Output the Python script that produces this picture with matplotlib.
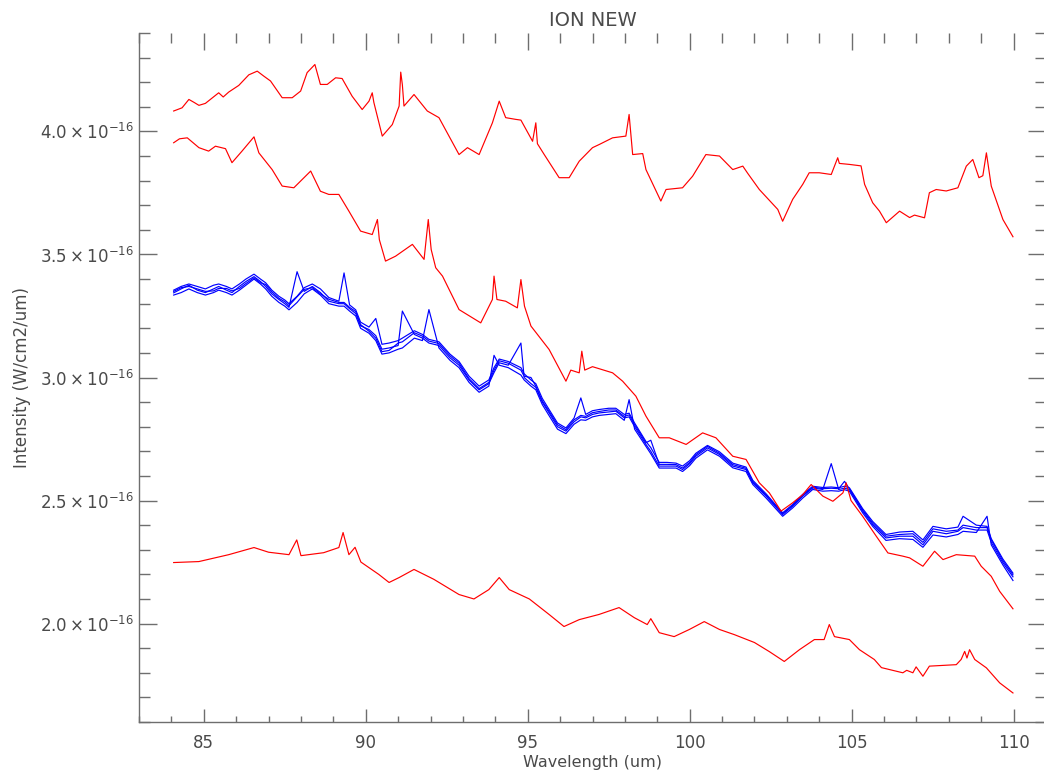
import numpy as np
import matplotlib
matplotlib.use("Agg")
import matplotlib.pyplot as plt
from matplotlib.ticker import MultipleLocator, FuncFormatter

plt.rcParams['font.family'] = ['DejaVu Sans']
plt.rcParams['mathtext.fontset'] = 'dejavusans'

# ---------------- data (intensity in units of 1e-16 W/cm2/um) ----------------
TITLE = "ION NEW"
XLABEL = "Wavelength (um)"
YLABEL = "Intensity (W/cm2/um)"

# red, upper spectrum
R1X = [84.07, 84.33, 84.54, 84.7, 84.85, 85.05, 85.46, 85.6, 85.77, 86.08, 86.39, 86.65, 86.85, 87.06, 87.42,
       87.73, 87.99, 88.19, 88.43, 88.6, 88.81, 89.07, 89.27, 89.58, 89.89, 90.1, 90.2, 90.25, 90.51, 90.82,
       91.03, 91.08, 91.13, 91.18, 91.49, 91.9, 92.26, 92.88, 93.14, 93.5, 93.91, 94.12, 94.32, 94.63, 94.79,
       95.15, 95.25, 95.3, 95.51, 95.97, 96.28, 96.59, 97.0, 97.21, 97.62, 98.03, 98.13, 98.24, 98.55, 98.65,
       99.11, 99.27, 99.78, 100.09, 100.5, 100.92, 101.33, 101.64, 101.79, 102.15, 102.72, 102.87, 103.18, 103.49, 103.69,
       104.0, 104.37, 104.57, 104.62, 104.93, 105.29, 105.4, 105.65, 105.86, 106.07, 106.48, 106.79, 106.94, 107.25, 107.4,
       107.61, 107.92, 108.28, 108.54, 108.74, 108.93, 109.05, 109.16, 109.31, 109.67, 109.98]
R1Y = [4.083, 4.096, 4.13, 4.118, 4.106, 4.114, 4.157, 4.14, 4.16, 4.187, 4.23, 4.245, 4.225, 4.205, 4.137,
       4.137, 4.164, 4.239, 4.272, 4.191, 4.191, 4.218, 4.215, 4.143, 4.089, 4.123, 4.157, 4.118, 3.981, 4.028,
       4.103, 4.241, 4.19, 4.103, 4.15, 4.083, 4.056, 3.906, 3.934, 3.906, 4.035, 4.123, 4.056, 4.049, 4.046,
       3.96, 4.035, 3.95, 3.906, 3.812, 3.812, 3.879, 3.934, 3.947, 3.974, 3.981, 4.069, 3.906, 3.91, 3.845,
       3.717, 3.764, 3.771, 3.818, 3.906, 3.9, 3.845, 3.859, 3.83, 3.764, 3.683, 3.635, 3.724, 3.785, 3.832,
       3.832, 3.825, 3.893, 3.87, 3.866, 3.86, 3.785, 3.71, 3.676, 3.629, 3.676, 3.65, 3.66, 3.649, 3.751,
       3.764, 3.758, 3.771, 3.859, 3.886, 3.812, 3.82, 3.913, 3.778, 3.642, 3.572]

# red, second spectrum
R2X = [84.07, 84.25, 84.49, 84.85, 85.15, 85.36, 85.67, 85.87, 86.18, 86.55, 86.7, 87.11, 87.42, 87.78,
       88.3, 88.6, 88.86, 89.17, 89.48, 89.84, 90.2, 90.36, 90.42, 90.61, 90.92, 91.44, 91.8, 91.93, 92.02,
       92.16, 92.37, 92.88, 93.55, 93.91, 93.96, 94.05, 94.32, 94.68, 94.79, 94.9, 95.1, 95.66, 96.18, 96.33,
       96.59, 96.67, 96.76, 97.0, 97.62, 97.93, 98.34, 98.65, 99.06, 99.37, 99.89, 100.4, 100.81, 101.33, 101.74,
       102.15, 102.46, 102.82, 103.18, 103.49, 103.75, 104.11, 104.42, 104.73, 104.83, 104.98, 105.34, 105.76,
       106.12, 106.58, 106.79, 107.2, 107.56, 107.82, 108.23, 108.8, 109.0, 109.31, 109.57, 109.98]
R2Y = [3.954, 3.97, 3.974, 3.934, 3.92, 3.94, 3.93, 3.873, 3.92, 3.978, 3.913, 3.845, 3.778, 3.771,
       3.839, 3.757, 3.744, 3.744, 3.676, 3.595, 3.581, 3.642, 3.56, 3.473, 3.493, 3.541, 3.48, 3.642, 3.52,
       3.446, 3.412, 3.276, 3.222, 3.317, 3.412, 3.317, 3.31, 3.283, 3.398, 3.29, 3.209, 3.114, 2.985, 3.03,
       3.019, 3.107, 3.03, 3.044, 3.019, 2.985, 2.924, 2.843, 2.755, 2.755, 2.728, 2.775, 2.755, 2.68, 2.667,
       2.572, 2.531, 2.457, 2.491, 2.524, 2.565, 2.518, 2.497, 2.531, 2.572, 2.5, 2.436, 2.355,
       2.287, 2.274, 2.267, 2.233, 2.294, 2.26, 2.28, 2.274, 2.233, 2.192, 2.131, 2.06]

# red, lower spectrum
R3X = [84.07, 84.85, 85.77, 86.55, 87.0, 87.63, 87.87, 88.0, 88.7, 89.17, 89.3, 89.48, 89.67, 89.85,
       90.4, 90.72, 91.03, 91.49, 92.1, 92.88, 93.34, 93.8, 94.12, 94.43, 95.05, 95.66, 96.12, 96.59,
       97.2, 97.82, 98.29, 98.69, 98.8, 99.06, 99.52, 99.99, 100.45, 100.92, 101.38, 102.0, 102.46, 102.92,
       103.39, 103.85, 104.15, 104.31, 104.47, 104.93, 105.24, 105.7, 105.92, 106.58, 106.7, 106.89, 106.99,
       107.2, 107.4, 108.23, 108.38, 108.49, 108.56, 108.64, 108.8, 109.16, 109.57, 109.98]
R3Y = [2.248, 2.252, 2.28, 2.309, 2.29, 2.28, 2.34, 2.276, 2.288, 2.309, 2.37, 2.28, 2.31, 2.25,
       2.2, 2.167, 2.187, 2.22, 2.18, 2.118, 2.1, 2.138, 2.187, 2.138, 2.1, 2.037, 1.988, 2.016,
       2.037, 2.065, 2.024, 1.996, 2.02, 1.963, 1.947, 1.976, 2.008, 1.976, 1.955, 1.923, 1.886, 1.846,
       1.894, 1.935, 1.935, 1.996, 1.947, 1.935, 1.894, 1.854, 1.821, 1.8, 1.81, 1.8, 1.824,
       1.786, 1.827, 1.833, 1.854, 1.887, 1.86, 1.894, 1.854, 1.82, 1.759, 1.718]

# blue bundle (four spectra on a shared wavelength grid)
BX = [84.07, 84.3, 84.54, 84.8, 85.05, 85.3, 85.46, 85.7, 85.87, 86.1,
      86.3, 86.55, 86.75, 86.91, 87.1, 87.32, 87.5, 87.63, 87.88, 88.1,
      88.35, 88.6, 88.86, 89.17, 89.33, 89.5, 89.69, 89.84, 90.1, 90.31,
      90.5, 90.72, 91.0, 91.13, 91.5, 91.75, 91.95, 92.26, 92.6, 92.88,
      93.19, 93.5, 93.8, 93.96, 94.12, 94.4, 94.79, 94.89, 95.1, 95.25,
      95.45, 95.66, 95.92, 96.18, 96.43, 96.64, 96.79, 97.0, 97.21, 97.5,
      97.72, 97.98, 98.13, 98.3, 98.65, 98.8, 99.06, 99.3, 99.58, 99.78,
      100.0, 100.19, 100.55, 100.92, 101.33, 101.74, 101.95, 102.36, 102.87, 103.18,
      103.49, 103.8, 104.11, 104.37, 104.6, 104.78, 104.93, 105.34, 105.65, 106.06,
      106.48, 106.89, 107.2, 107.51, 107.92, 108.28, 108.44, 108.85, 109.18, 109.31,
      109.67, 109.98]
B1 = [3.344, 3.36, 3.375, 3.355, 3.345, 3.36, 3.37, 3.355, 3.345, 3.37,
      3.39, 3.41, 3.39, 3.37, 3.34, 3.317, 3.30, 3.285, 3.43, 3.35,
      3.37, 3.345, 3.31, 3.30, 3.30, 3.28, 3.26, 3.21, 3.195, 3.17,
      3.115, 3.12, 3.13, 3.27, 3.175, 3.16, 3.14, 3.13, 3.08, 3.05,
      2.99, 2.95, 2.975, 3.02, 3.06, 3.05, 3.14, 3.0, 2.975, 2.96,
      2.9, 2.856, 2.80, 2.782, 2.82, 2.84, 2.836, 2.85, 2.856, 2.86,
      2.863, 2.836, 2.84, 2.8, 2.728, 2.70, 2.64, 2.64, 2.64, 2.626,
      2.65, 2.68, 2.714, 2.687, 2.64, 2.626, 2.572, 2.518, 2.443, 2.477,
      2.518, 2.551, 2.545, 2.65, 2.545, 2.55, 2.545, 2.457, 2.402, 2.348,
      2.355, 2.355, 2.32, 2.375, 2.365, 2.375, 2.39, 2.38, 2.38, 2.33,
      2.247, 2.19]
B2 = [3.355, 3.37, 3.38, 3.37, 3.36, 3.375, 3.38, 3.37, 3.36, 3.38,
      3.40, 3.42, 3.40, 3.385, 3.355, 3.33, 3.315, 3.30, 3.33, 3.365,
      3.38, 3.36, 3.325, 3.31, 3.425, 3.295, 3.275, 3.225, 3.205, 3.24,
      3.135, 3.14, 3.15, 3.16, 3.19, 3.175, 3.155, 3.145, 3.095, 3.065,
      3.005, 2.965, 2.99, 3.04, 3.075, 3.065, 3.04, 3.015, 2.99, 2.975,
      2.915, 2.87, 2.815, 2.795, 2.835, 2.917, 2.85, 2.865, 2.87, 2.875,
      2.875, 2.85, 2.855, 2.815, 2.74, 2.715, 2.655, 2.655, 2.652, 2.64,
      2.662, 2.692, 2.724, 2.698, 2.652, 2.636, 2.582, 2.527, 2.45, 2.484,
      2.525, 2.558, 2.553, 2.555, 2.552, 2.558, 2.552, 2.467, 2.415, 2.362,
      2.372, 2.375, 2.34, 2.395, 2.385, 2.392, 2.436, 2.4, 2.395, 2.345,
      2.262, 2.205]
B3 = [3.335, 3.345, 3.36, 3.345, 3.335, 3.345, 3.355, 3.345, 3.335, 3.355,
      3.375, 3.40, 3.38, 3.36, 3.33, 3.305, 3.29, 3.275, 3.305, 3.34,
      3.36, 3.335, 3.30, 3.29, 3.29, 3.27, 3.25, 3.20, 3.18, 3.15,
      3.095, 3.10, 3.115, 3.12, 3.16, 3.15, 3.276, 3.12, 3.07, 3.04,
      2.98, 2.94, 2.965, 3.09, 3.05, 3.04, 3.01, 2.99, 2.965, 2.95,
      2.89, 2.845, 2.79, 2.772, 2.81, 2.828, 2.826, 2.84, 2.846, 2.85,
      2.853, 2.826, 2.91, 2.79, 2.72, 2.69, 2.632, 2.632, 2.632, 2.618,
      2.642, 2.672, 2.706, 2.68, 2.633, 2.618, 2.565, 2.51, 2.436, 2.47,
      2.51, 2.545, 2.538, 2.54, 2.538, 2.544, 2.538, 2.45, 2.395, 2.338,
      2.345, 2.342, 2.31, 2.36, 2.352, 2.362, 2.375, 2.37, 2.436, 2.32,
      2.238, 2.175]
B4 = [3.35, 3.365, 3.37, 3.36, 3.35, 3.352, 3.362, 3.362, 3.352, 3.362,
      3.382, 3.405, 3.385, 3.378, 3.348, 3.322, 3.308, 3.292, 3.328, 3.358,
      3.365, 3.34, 3.318, 3.305, 3.305, 3.285, 3.268, 3.215, 3.188, 3.16,
      3.105, 3.11, 3.14, 3.145, 3.182, 3.168, 3.148, 3.138, 3.088, 3.058,
      2.995, 2.955, 2.98, 3.03, 3.068, 3.058, 3.03, 3.005, 3.0, 2.965,
      2.905, 2.862, 2.808, 2.788, 2.828, 2.846, 2.842, 2.857, 2.862, 2.868,
      2.868, 2.842, 2.848, 2.808, 2.735, 2.745, 2.647, 2.647, 2.646, 2.632,
      2.655, 2.686, 2.72, 2.692, 2.646, 2.631, 2.577, 2.522, 2.447, 2.48,
      2.52, 2.555, 2.548, 2.55, 2.548, 2.578, 2.548, 2.462, 2.408, 2.355,
      2.362, 2.365, 2.33, 2.385, 2.375, 2.38, 2.40, 2.39, 2.39, 2.34,
      2.255, 2.198]

XTICKS = [85, 90, 95, 100, 105, 110]
YTICKS = [2.0, 2.5, 3.0, 3.5, 4.0]

# ---------------- figure ----------------
W, H = 1044, 773
fig = plt.figure(figsize=(W / 100, H / 100), dpi=100)
L, R, B, T = 139, 1046, 722, 33
ax = fig.add_axes([L / W, 1 - B / H, (R - L) / W, (B - T) / H])

TXT = '#4a4a4a'
AXC = '#6e6e6e'

for ys in (B1, B2, B3, B4):
    ax.plot(BX, ys, color='#0000ff', lw=0.85)
for xs, ys in ((R1X, R1Y), (R2X, R2Y), (R3X, R3Y)):
    ax.plot(xs, ys, color='#ff0000', lw=0.85)

ax.set_xlim(83, 111)
ax.set_ylim(1.6, 4.4)

ax.set_xticks(XTICKS)
ax.xaxis.set_minor_locator(MultipleLocator(1))
ax.set_yticks(YTICKS)
ax.yaxis.set_minor_locator(MultipleLocator(0.1))
ax.yaxis.set_major_formatter(FuncFormatter(lambda v, p: r'$%.1f\times10^{-16}$' % v))

px = 0.72
ax.tick_params(axis='x', which='major', direction='in', length=13 * px, width=1.0,
               color=AXC, labelcolor=TXT, labelsize=12, pad=9, top=False)
ax.tick_params(axis='x', which='minor', direction='in', length=6 * px, width=1.0,
               color=AXC, top=False)
ax.tick_params(axis='y', which='major', direction='in', length=18 * px, width=1.0,
               color=AXC, labelcolor=TXT, labelsize=12, pad=4, right=True)
ax.tick_params(axis='y', which='minor', direction='in', length=11 * px, width=1.0,
               color=AXC, right=True)

for s in ('left', 'bottom', 'right'):
    ax.spines[s].set_color(AXC)
    ax.spines[s].set_linewidth(1.0)
ax.spines['top'].set_visible(False)

# top ticks (no axis line)
axt = ax.twiny()
axt.set_xlim(ax.get_xlim())
axt.set_xticks(XTICKS)
axt.xaxis.set_minor_locator(MultipleLocator(1))
axt.tick_params(axis='x', which='major', direction='in', length=17 * px, width=1.0,
                color=AXC, labeltop=False)
axt.tick_params(axis='x', which='minor', direction='in', length=10 * px, width=1.0,
                color=AXC)
for s in axt.spines.values():
    s.set_visible(False)

ax.set_title(TITLE, fontsize=14, color=TXT, pad=5)
ax.set_xlabel(XLABEL, fontsize=11.5, color=TXT)
ax.xaxis.set_label_coords(0.5, (B - 762) / (B - T))
ax.xaxis.label.set_va('center')
ax.set_ylabel(YLABEL, fontsize=12, color=TXT)
ax.yaxis.set_label_coords((22 - L) / (R - L), 0.5)
ax.yaxis.label.set_va('center')

fig.savefig('out.png', dpi=100)
